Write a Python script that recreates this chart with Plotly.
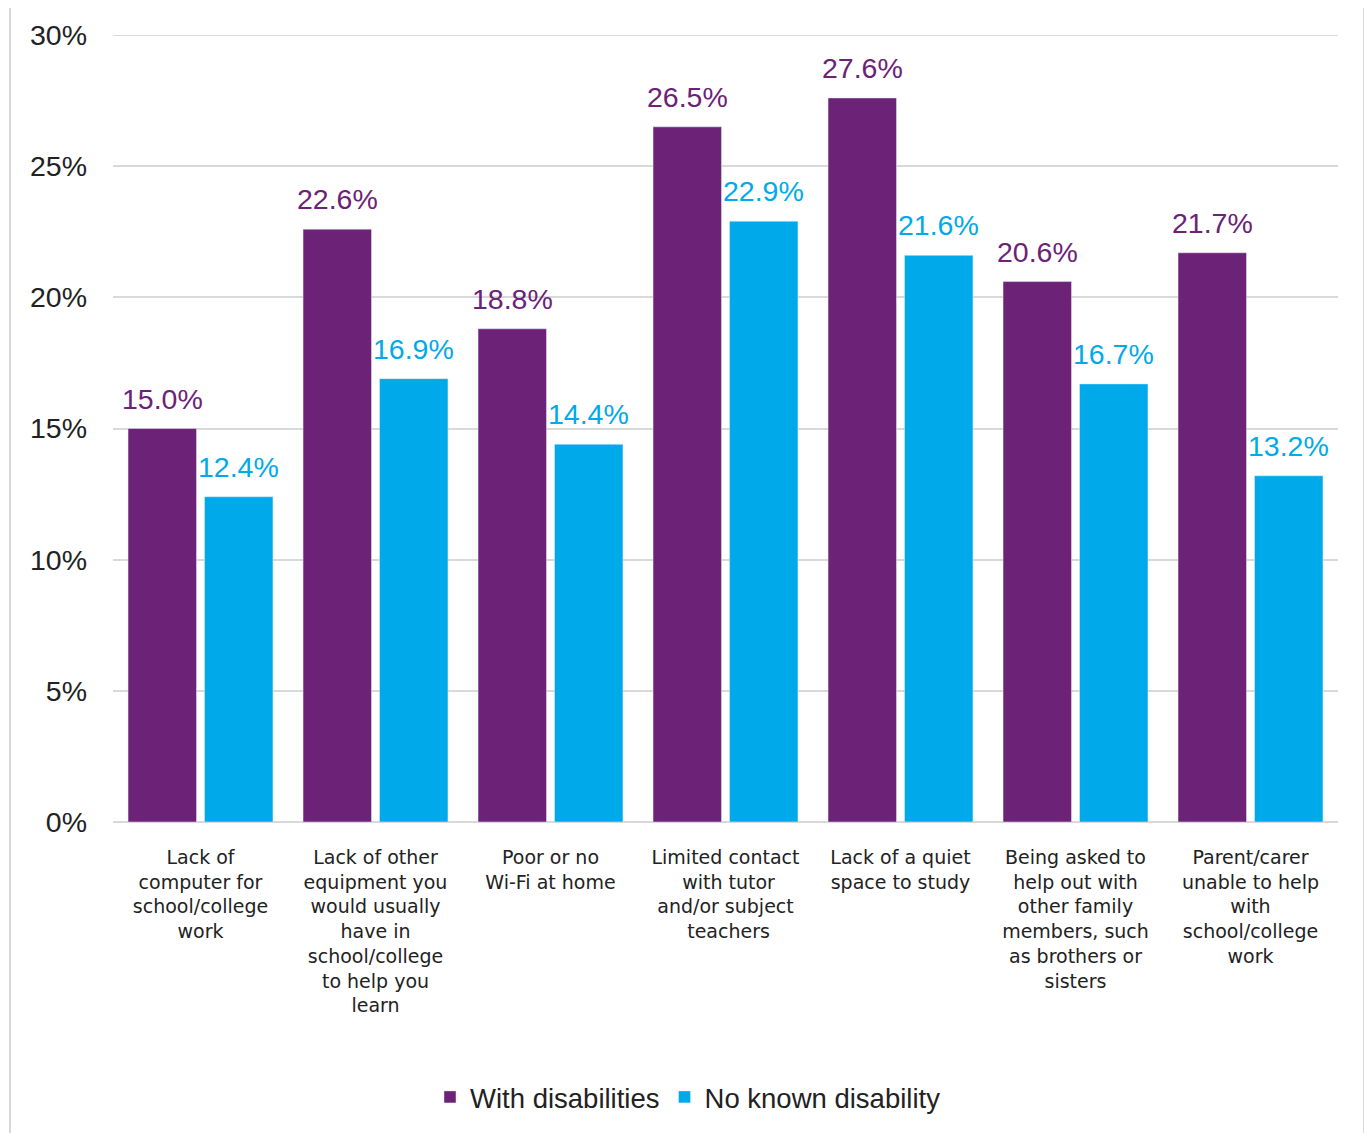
import plotly.graph_objects as go

categories = [
    "Lack of<br>computer for<br>school/college<br>work",
    "Lack of other<br>equipment you<br>would usually<br>have in<br>school/college<br>to help you<br>learn",
    "Poor or no<br>Wi-Fi at home",
    "Limited contact<br> with tutor<br>and/or subject<br> teachers",
    "Lack of a quiet<br>space to study",
    "Being asked to<br>help out with<br>other family<br>members, such<br>as brothers or<br>sisters",
    "Parent/carer<br>unable to help<br>with<br>school/college<br>work",
]
with_disabilities = [15.0, 22.6, 18.8, 26.5, 27.6, 20.6, 21.7]
no_known_disability = [12.4, 16.9, 14.4, 22.9, 21.6, 16.7, 13.2]
y_ticks = [0, 5, 10, 15, 20, 25, 30]

PURPLE = "#6B2277"
BLUE = "#00AAEA"
GRID = "#d9d9d9"
FONT = "Liberation Sans, Arial, sans-serif"
CAT_FONT = "DejaVu Sans, sans-serif"

# Browser body margin of 8px is accounted for here
W, H = 1364, 1125
L, R, T, B = 105, 34, 27, 311
pw, ph = W - L - R, H - T - B

def px_x(p):
    return (p - L) / pw

def px_y(p):
    return (H - B - p) / ph

BARGAP = 0.126
GROUPGAP = 0.105
cat_px = pw / len(categories)
half_slot = cat_px * (1 - BARGAP) / 4

fig = go.Figure()
fig.add_trace(go.Bar(name="With disabilities", x=categories, y=with_disabilities,
                     marker_color=PURPLE))
fig.add_trace(go.Bar(name="No known disability", x=categories, y=no_known_disability,
                     marker_color=BLUE))

annotations = []
for series, color, sign in [(with_disabilities, PURPLE, -1), (no_known_disability, BLUE, 1)]:
    for c, v in zip(categories, series):
        annotations.append(dict(
            x=c, y=v, xref="x", yref="y", text=f"{v:.1f}%", showarrow=False,
            xanchor="center", yanchor="bottom", xshift=sign * half_slot, yshift=12,
            font=dict(size=28.5, family=FONT, color=color),
        ))

y_max = max(y_ticks)

fig.update_layout(
    width=W, height=H,
    margin=dict(l=L, r=R, t=T, b=B),
    paper_bgcolor="white", plot_bgcolor="white",
    barmode="group", bargap=BARGAP, bargroupgap=GROUPGAP,
    font=dict(family=FONT, color="#222222"),
    showlegend=True,
    legend=dict(orientation="h", x=px_x(680), xanchor="center", y=px_y(1089), yanchor="middle",
                font=dict(size=27.5, family=FONT, color="#222222"), itemwidth=30,
                traceorder="normal"),
    yaxis=dict(range=[0, y_max], tickvals=y_ticks, ticktext=[f"{v}%" for v in y_ticks],
               showgrid=True, gridcolor=GRID, gridwidth=2,
               zeroline=True, zerolinecolor=GRID, zerolinewidth=2,
               tickfont=dict(size=28.5, family=FONT, color="#222222"),
               ticklabelstandoff=25, showline=False),
    xaxis=dict(tickfont=dict(size=19, family=CAT_FONT, color="#222222"),
               ticklabelstandoff=22, showline=False, ticks=""),
    annotations=annotations,
    shapes=[
        dict(type="line", xref="paper", yref="y", x0=0, x1=1, y0=y_max, y1=y_max,
             line=dict(color=GRID, width=2), layer="below"),
        dict(type="line", xref="paper", yref="paper", x0=px_x(2), x1=px_x(2),
             y0=px_y(0), y1=px_y(H + 10), line=dict(color=GRID, width=2)),
        dict(type="line", xref="paper", yref="paper", x0=px_x(1356), x1=px_x(1356),
             y0=px_y(0), y1=px_y(H + 10), line=dict(color=GRID, width=2)),
    ],
)

fig.write_html("out.html")
